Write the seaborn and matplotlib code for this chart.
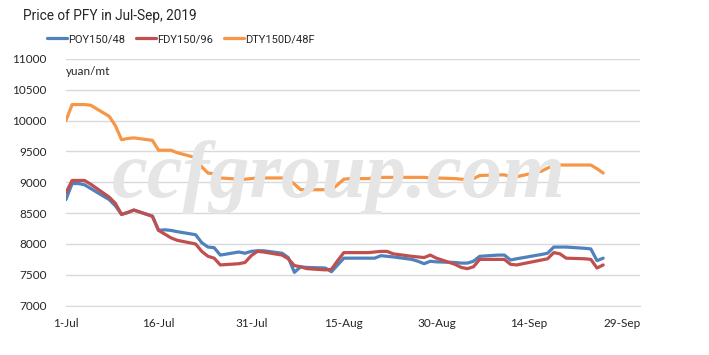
import numpy as np
import pandas as pd
import matplotlib as mpl
mpl.use("Agg")
import matplotlib.pyplot as plt
import matplotlib.dates as mdates
import seaborn as sb

sb.set_style("white")
plt.rcParams['font.family'] = ['Lato', 'DejaVu Sans']

# trading days Jul 1 - Sep 26, 2019 (Sep 13 holiday)
dates = pd.bdate_range("2019-07-01", "2019-09-26").drop(pd.Timestamp("2019-09-13"))

poy = [8720, 8980, 8980, 8960, 8900, 8720, 8620, 8480, 8510, 8550, 8450, 8220,
       8230, 8220, 8200, 8150, 8020, 7950, 7940, 7820, 7870, 7850, 7880,
       7890, 7890, 7850, 7780, 7540, 7630, 7620, 7610, 7550, 7660, 7770, 7770,
       7770, 7770, 7810, 7800, 7790, 7750, 7720, 7680, 7720, 7710,
       7700, 7690, 7690, 7720, 7800, 7820, 7820, 7740, 7760, 7830, 7850, 7950,
       7950, 7950, 7930, 7920, 7730, 7770]
fdy = [8830, 9030, 9030, 9030, 8970, 8760, 8660, 8480, 8510, 8550, 8450, 8220,
       8160, 8100, 8060, 8000, 7880, 7800, 7770, 7660, 7680, 7700, 7810,
       7880, 7870, 7820, 7760, 7650, 7630, 7600, 7580, 7590, 7730, 7860, 7860,
       7860, 7870, 7880, 7880, 7840, 7800, 7790, 7780, 7820, 7770,
       7670, 7620, 7600, 7630, 7750, 7750, 7750, 7670, 7660, 7740, 7760, 7860,
       7840, 7770, 7760, 7750, 7610, 7660]
dty = [10000, 10260, 10260, 10260, 10250, 10070, 9920, 9690, 9710, 9720, 9680, 9520,
       9520, 9520, 9480, 9400, 9250, 9150, 9140, 9070, 9050, 9050, 9060,
       9070, 9070, 9070, 9060, 8970, 8880, 8880, 8880, 8880, 8960, 9050, 9060,
       9060, 9080, 9080, 9080, 9080, 9080, 9080, 9080, 9070, 9070,
       9060, 9050, 9050, 9060, 9110, 9120, 9120, 9090, 9090, 9180, 9230, 9280,
       9280, 9280, 9280, 9280, 9220, 9150]

series = ["POY150/48", "FDY150/96", "DTY150D/48F"]
colors = ["#4f81bd", "#c0504d", "#f79646"]

df = pd.DataFrame({"date": np.tile(dates, 3),
                   "price": poy + fdy + dty,
                   "series": np.repeat(series, len(dates))})

narrow = ['Roboto', 'DejaVu Sans']

fig = plt.figure(figsize=(7.09, 3.55), dpi=100)
ax = fig.add_axes([0.093, 0.139, 0.81, 0.695])

# watermark
fig.text(0.478, 0.50, "ccfgroup.com", fontsize=58, style="italic", weight="bold",
         family="Liberation Serif", color="#e5e5e5", ha="center", va="center", zorder=0)
ax.patch.set_alpha(0)

sb.lineplot(data=df, x="date", y="price", hue="series", palette=colors,
            estimator=None, linewidth=2.3, ax=ax, legend=False)

ax.set_ylim(7000, 11000)
ax.set_yticks(np.arange(7000, 11001, 500))
ax.set_xlim(pd.Timestamp("2019-07-01"), pd.Timestamp("2019-10-02"))
ax.set_xticks(pd.date_range("2019-07-01", periods=7, freq="15D"))
ax.xaxis.set_major_formatter(mdates.DateFormatter("%-d-%b"))
ax.grid(axis="y", color="#d9d9d9", linewidth=1)
ax.set_axisbelow(True)
for s in ["left", "right", "top"]:
    ax.spines[s].set_visible(False)
ax.spines["bottom"].set_color("#d9d9d9")
ax.tick_params(axis="x", length=4, color="#d9d9d9", labelsize=8.5, pad=5)
ax.tick_params(axis="y", length=0, labelsize=8.5, pad=14)
ax.set_xlabel("")
ax.set_ylabel("")
ax.text(0.0, 0.95, "yuan/mt", transform=ax.transAxes, fontsize=8.5, va="center", ha="left")

fig.text(0.032, 0.955, "Price of PFY in Jul-Sep, 2019", fontsize=9.8, va="center", ha="left",
         family=narrow)

handles = [mpl.lines.Line2D([], [], color=c, linewidth=2.3) for c in colors]
fig.legend(handles, series, loc="center left", bbox_to_anchor=(0.052, 0.89), ncol=3,
           frameon=False, prop={"family": narrow, "size": 8},
           handlelength=1.8, handletextpad=0.1, columnspacing=1.0)

fig.savefig("out.png", dpi=100)
